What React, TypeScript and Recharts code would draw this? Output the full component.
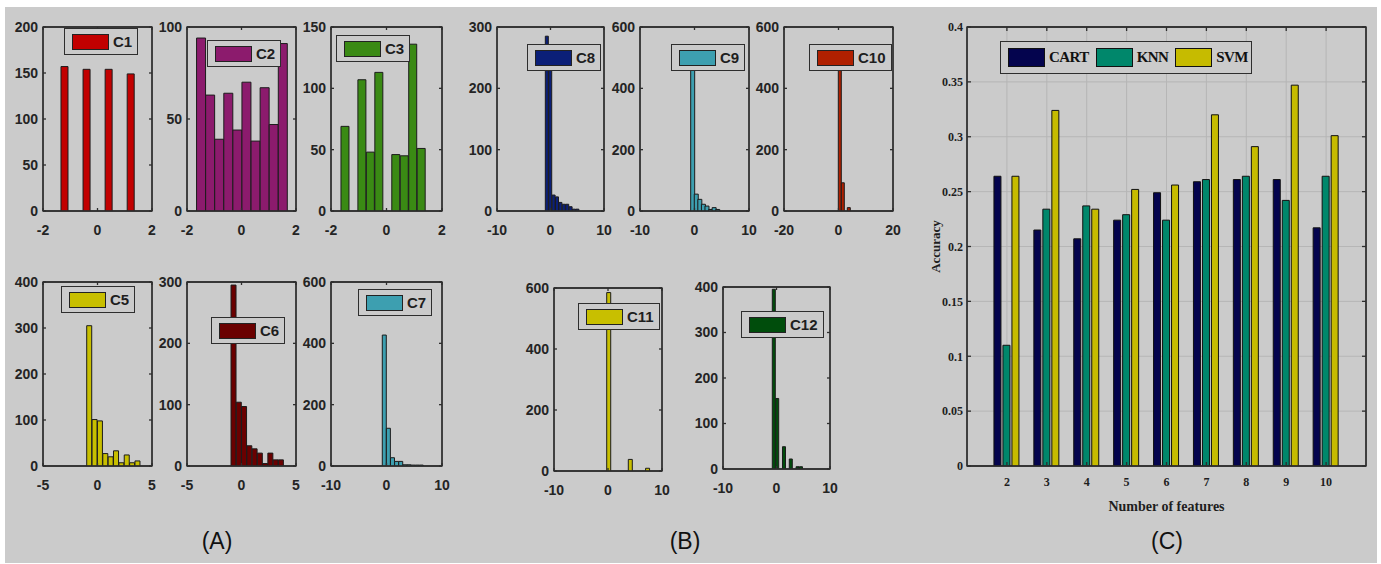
import React from "react";
import { ComposedChart, Bar, Line, XAxis, YAxis, CartesianGrid, Legend, ReferenceArea } from "recharts";

const BG = "#cbcbcb";
const AXIS = "#2e2e2e";
const SANS = "'Liberation Sans Narrow', 'Liberation Sans', Arial, sans-serif";
const SERIF = "'Liberation Serif', 'Times New Roman', serif";

// ---- (A) / (B) histograms: bin centres and counts ----
const c1Bins = [-1.205, -0.935, -0.665, -0.395, -0.125, 0.145, 0.415, 0.685, 0.955, 1.225];
const c1Counts = [157, 0, 0, 154, 0, 0, 154, 0, 0, 149];
const c2Bins = [-1.483, -1.15, -0.817, -0.483, -0.15, 0.183, 0.517, 0.85, 1.183, 1.517];
const c2Counts = [94, 63, 39, 64, 44, 70, 38, 67, 47, 91];
const c3Bins = [-1.488, -1.183, -0.878, -0.573, -0.268, 0.038, 0.343, 0.648, 0.953, 1.258];
const c3Counts = [69, 0, 107, 48, 113, 0, 46, 45, 136, 51];
const c5Bins = [-0.744, -0.252, 0.24, 0.732, 1.224, 1.716, 2.208, 2.7, 3.192, 3.684];
const c5Counts = [305, 101, 98, 27, 20, 33, 7, 24, 7, 11];
const c6Bins = [-0.72, -0.237, 0.246, 0.729, 1.212, 1.695, 2.178, 2.661, 3.144, 3.627];
const c6Counts = [295, 104, 97, 33, 28, 21, 4, 21, 10, 10];
const c7Bins = [-0.39, 0.35, 1.09, 1.83, 2.57, 3.31, 4.05, 4.79, 5.53, 6.27];
const c7Counts = [427, 123, 27, 15, 15, 4, 4, 3, 3, 3];
const c8Bins = [-0.652, -0.017, 0.618, 1.253, 1.888, 2.523, 3.158, 3.793, 4.428, 5.063];
const c8Counts = [285, 231, 26, 23, 14, 11, 11, 7, 3, 3];
const c9Bins = [-0.372, 0.284, 0.94, 1.596, 2.252, 2.908, 3.564, 4.22];
const c9Counts = [462, 55, 38, 22, 16, 5, 11, 5];
const c10Bins = [0.48, 1.58, 2.68, 3.78];
const c10Counts = [511, 92, 0, 11];
const c11Bins = [0.16, 0.96, 1.76, 2.56, 3.36, 4.16, 4.96, 5.76, 6.56, 7.36];
const c11Counts = [585, 0, 0, 0, 0, 38, 0, 0, 0, 9];
const c12Bins = [-0.468, 0.167, 0.802, 1.437, 2.072, 2.707, 3.342, 3.977, 4.612];
const c12Counts = [395, 155, 0, 49, 0, 22, 0, 5, 5];

// ---- (C) accuracy vs number of features ----
const featureCounts = [2, 3, 4, 5, 6, 7, 8, 9, 10];
const cartAcc = [0.264, 0.215, 0.207, 0.224, 0.249, 0.259, 0.261, 0.261, 0.217];
const knnAcc = [0.11, 0.234, 0.237, 0.229, 0.224, 0.261, 0.264, 0.242, 0.264];
const svmAcc = [0.264, 0.324, 0.234, 0.252, 0.256, 0.32, 0.291, 0.347, 0.301];
const accTicks = [0, 0.05, 0.1, 0.15, 0.2, 0.25, 0.3, 0.35, 0.4];
const featDomain = [1, 11];

const ALGO = [
  { key: "CART", color: "#04044e", w: 88 },
  { key: "KNN", color: "#00876b", w: 80 },
  { key: "SVM", color: "#c6bb00", w: 76 },
];

const hists = [
  { name: "C1", color: "#c20000", bins: c1Bins, counts: c1Counts, xd: [-2, 2], yt: [0, 50, 100, 150, 200], box: [43, 27, 109, 184], lg: [64, 28] },
  { name: "C2", color: "#8c1b6d", bins: c2Bins, counts: c2Counts, xd: [-2, 2], yt: [0, 50, 100], box: [187, 27, 109, 184], lg: [207, 40] },
  { name: "C3", color: "#3a8a14", bins: c3Bins, counts: c3Counts, xd: [-2, 2], yt: [0, 50, 100, 150], box: [331, 27, 111, 184], lg: [336, 35] },
  { name: "C5", color: "#c8bf00", bins: c5Bins, counts: c5Counts, xd: [-5, 5], yt: [0, 100, 200, 300, 400], box: [43, 282, 109, 184], lg: [61, 286] },
  { name: "C6", color: "#6a0000", bins: c6Bins, counts: c6Counts, xd: [-5, 5], yt: [0, 100, 200, 300], box: [187, 282, 109, 184], lg: [211, 317] },
  { name: "C7", color: "#3d9fb0", bins: c7Bins, counts: c7Counts, xd: [-10, 10], yt: [0, 200, 400, 600], box: [331, 282, 111, 184], lg: [358, 289] },
  { name: "C8", color: "#0b1f78", bins: c8Bins, counts: c8Counts, xd: [-10, 10], yt: [0, 100, 200, 300], box: [497, 27, 107, 184], lg: [527, 44] },
  { name: "C9", color: "#3d9fb0", bins: c9Bins, counts: c9Counts, xd: [-10, 10], yt: [0, 200, 400, 600], box: [640, 27, 109, 184], lg: [671, 44] },
  { name: "C10", color: "#b02000", bins: c10Bins, counts: c10Counts, xd: [-20, 20], yt: [0, 200, 400, 600], box: [784, 27, 109, 184], lg: [809, 44] },
  { name: "C11", color: "#c8bf00", bins: c11Bins, counts: c11Counts, xd: [-10, 10], yt: [0, 200, 400, 600], box: [554, 288, 108, 183], lg: [578, 303] },
  { name: "C12", color: "#004d0c", bins: c12Bins, counts: c12Counts, xd: [-10, 10], yt: [0, 100, 200, 300, 400], box: [723, 287, 107, 182], lg: [741, 311] },
];

const histTick = { fill: "#242424", fontSize: 14, fontWeight: 700, fontFamily: SANS };
const blank = () => "";

function Hist({ h }: { h: any }) {
  const [px, py, pw, ph] = h.box;
  const left = px - 45;
  const top = py - 10;
  const data = h.bins.map((x: number, i: number) => ({ x, count: h.counts[i] }));
  const xTicks = [h.xd[0], 0, h.xd[1]];
  const yMax = h.yt[h.yt.length - 1];
  return (
    <div style={{ position: "absolute", left, top }}>
      <ComposedChart width={pw + 55} height={ph + 40} data={data} barCategoryGap={0} barGap={0}
        margin={{ top: 9, right: 9, left: 0, bottom: 0 }}>
        <XAxis type="number" dataKey="x" domain={h.xd} ticks={xTicks} height={30} allowDataOverflow
          stroke={AXIS} strokeWidth={1.3} tickSize={-3} tickMargin={17} tick={histTick} interval={0} />
        <XAxis xAxisId="top" orientation="top" type="number" dataKey="x" domain={h.xd} ticks={xTicks} height={1}
          allowDataOverflow stroke={AXIS} strokeWidth={1.3} tickSize={-3} tickFormatter={blank} interval={0} />
        <YAxis type="number" domain={[0, yMax]} ticks={h.yt} width={45} stroke={AXIS} strokeWidth={1.3}
          tickSize={-3} tickMargin={8} tick={histTick} interval={0} allowDataOverflow />
        <YAxis yAxisId="right" orientation="right" type="number" domain={[0, yMax]} ticks={h.yt} width={1}
          allowDataOverflow stroke={AXIS} strokeWidth={1.3} tickSize={-3} tickFormatter={blank} interval={0} />
        <ReferenceArea x1={h.xd[0]} x2={h.xd[1]} y1={0} y2={yMax} fill="none" stroke={AXIS} strokeWidth={1.3}
          ifOverflow="visible" />
        <Bar dataKey="count" fill={h.color} stroke="#1c1c1c" strokeWidth={1} isAnimationActive={false} />
        <Line xAxisId="top" yAxisId="right" dataKey="count" stroke="none" dot={false} activeDot={false}
          legendType="none" isAnimationActive={false} />
        <Legend verticalAlign="middle" align="center" layout="horizontal"
          wrapperStyle={{ left: h.lg[0] - left, top: h.lg[1] - top, width: "auto", height: "auto" }}
          content={() => (
            <div style={{ display: "flex", alignItems: "center", height: 25, padding: "0 5px 0 7px",
              border: `1.5px solid ${AXIS}`, background: BG }}>
              <span style={{ width: 35, height: 14, background: h.color, border: "1.5px solid #222" }} />
              <span style={{ marginLeft: 4, fontFamily: SANS, fontWeight: 700, fontSize: 15, color: "#1e1e1e" }}>{h.name}</span>
            </div>
          )} />
      </ComposedChart>
    </div>
  );
}

const accData = featureCounts.map((n, i) => ({ n, CART: cartAcc[i], KNN: knnAcc[i], SVM: svmAcc[i] }));
const serifTick = { fill: "#1e1e1e", fontSize: 12, fontWeight: 700, fontFamily: SERIF };

function AccuracyChart() {
  const left = 907;
  const top = 17;
  return (
    <div style={{ position: "absolute", left, top }}>
      <ComposedChart width={469} height={499} data={accData} barSize={7} barGap={2}
        margin={{ top: 9, right: 9, left: 0, bottom: 0 }}>
        <CartesianGrid stroke="#b6b6b6" strokeWidth={1} />
        <XAxis type="number" dataKey="n" domain={featDomain} ticks={featureCounts} allowDataOverflow height={50}
          stroke={AXIS} strokeWidth={1.3} tickSize={-4} tickMargin={15} tick={serifTick} interval={0}
          label={{ value: "Number of features", position: "insideBottom", offset: 5,
            style: { fill: "#1e1e1e", fontSize: 14, fontWeight: 700, fontFamily: SERIF } }} />
        <XAxis xAxisId="top" orientation="top" type="number" dataKey="n" domain={featDomain} ticks={featureCounts}
          allowDataOverflow height={1} stroke={AXIS} strokeWidth={1.3} tickSize={-4} tickFormatter={blank} interval={0} />
        <YAxis domain={[0, 0.4]} ticks={accTicks} width={60} stroke={AXIS} strokeWidth={1.3} allowDataOverflow
          tickSize={-4} tickMargin={8} tick={serifTick} interval={0}
          label={{ value: "Accuracy", angle: -90, position: "insideLeft", offset: 28,
            style: { textAnchor: "middle", fill: "#1e1e1e", fontSize: 13, fontWeight: 700, fontFamily: SERIF } }} />
        <YAxis yAxisId="right" orientation="right" domain={[0, 0.4]} ticks={accTicks} width={1} allowDataOverflow
          stroke={AXIS} strokeWidth={1.3} tickSize={-4} tickFormatter={blank} interval={0} />
        <ReferenceArea x1={featDomain[0]} x2={featDomain[1]} y1={0} y2={0.4} fill="none" stroke={AXIS}
          strokeWidth={1.3} ifOverflow="visible" />
        {ALGO.map((a) => (
          <Bar key={a.key} dataKey={a.key} fill={a.color} stroke="#111" strokeWidth={1} isAnimationActive={false} />
        ))}
        <Line xAxisId="top" yAxisId="right" dataKey="SVM" stroke="none" dot={false} activeDot={false}
          legendType="none" isAnimationActive={false} />
        <Legend verticalAlign="middle" align="center" layout="horizontal"
          wrapperStyle={{ left: 1000 - left, top: 41 - top, width: "auto", height: "auto" }}
          content={() => (
            <div style={{ display: "flex", alignItems: "center", width: 252, height: 33, paddingLeft: 7,
              boxSizing: "border-box", border: `1.5px solid ${AXIS}`, background: BG }}>
              {ALGO.map((a) => (
                <div key={a.key} style={{ display: "flex", alignItems: "center", width: a.w }}>
                  <span style={{ width: 35, height: 17, background: a.color, border: "1.5px solid #111" }} />
                  <span style={{ marginLeft: 4, fontFamily: SERIF, fontWeight: 700, fontSize: 15,
                    letterSpacing: -0.6, color: "#111" }}>{a.key}</span>
                </div>
              ))}
            </div>
          )} />
      </ComposedChart>
    </div>
  );
}

const panelLabel = (text: string, cx: number) => (
  <div style={{ position: "absolute", left: cx - 30, width: 60, top: 526, textAlign: "center",
    fontFamily: SANS, fontSize: 23, color: "#111", lineHeight: "30px" }}>{text}</div>
);

export default function App() {
  return (
    <div style={{ position: "absolute", left: 0, top: 0, width: 1381, height: 564, background: "#fff", overflow: "hidden" }}>
      <div style={{ position: "absolute", left: 5, top: 7, width: 1372, height: 556, background: BG }} />
      {hists.map((h) => <Hist key={h.name} h={h} />)}
      <AccuracyChart />
      {panelLabel("(A)", 217)}
      {panelLabel("(B)", 685)}
      {panelLabel("(C)", 1167)}
    </div>
  );
}
